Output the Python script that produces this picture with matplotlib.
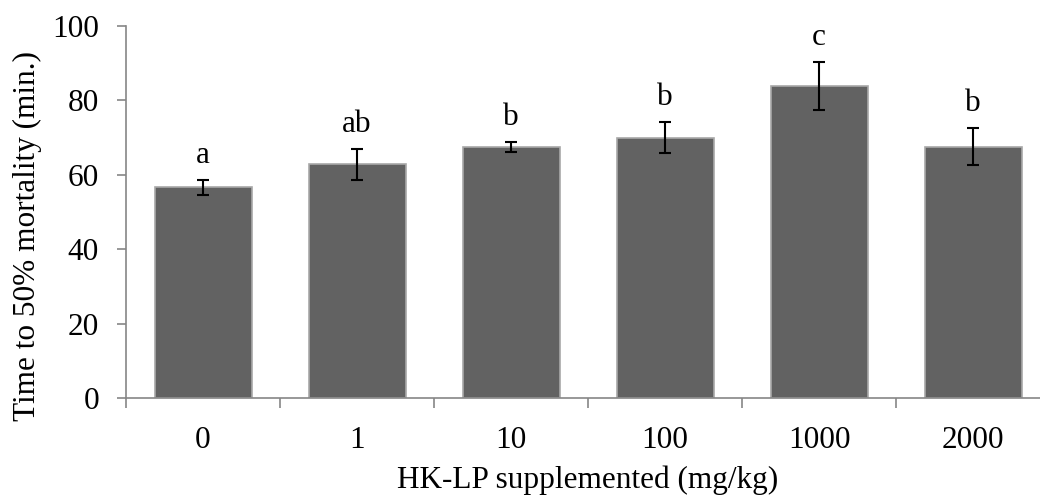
import numpy as np
import matplotlib
matplotlib.use('Agg')
import matplotlib.pyplot as plt
from matplotlib.ticker import FixedLocator

plt.rcParams['font.family'] = ['Liberation Serif', 'DejaVu Serif']

doses = ['0', '1', '10', '100', '1000', '2000']
means = [56.7, 62.8, 67.5, 70.0, 83.8, 67.5]
errs = [2.0, 4.2, 1.4, 4.1, 6.4, 5.0]
letters = ['a', 'ab', 'b', 'b', 'c', 'b']

fs = 22.5
fig = plt.figure(figsize=(10.4, 4.97), dpi=100)
ax = fig.add_axes([0.1212, 0.1992, 0.8885, 0.7485])

x = np.arange(len(doses))
ax.bar(x, means, width=0.63, color='#626262', edgecolor='#a8a8a8', linewidth=1.2, zorder=2)
ax.errorbar(x, means, yerr=errs, fmt='none', ecolor='black', elinewidth=1.5,
            capsize=4.3, capthick=1.5, zorder=3)
for xi, m, e, lab in zip(x, means, errs, letters):
    ax.text(xi, m + e + 4.6, lab, ha='center', va='baseline', fontsize=fs)

ax.set_xlim(-0.5, len(doses) - 0.5)
ax.set_ylim(0, 100)
ax.set_yticks(np.arange(0, 101, 20))
ax.set_xticks(x)
ax.set_xticklabels(doses)
ax.xaxis.set_minor_locator(FixedLocator(np.arange(-0.5, len(doses), 1.0)))

for s in ['top', 'right']:
    ax.spines[s].set_visible(False)
for s in ['left', 'bottom']:
    ax.spines[s].set_color('#868686')
    ax.spines[s].set_linewidth(1.2)

ax.tick_params(axis='x', which='major', length=0, pad=20, labelsize=fs)
ax.tick_params(axis='x', which='minor', length=7, width=1.2, color='#868686')
ax.tick_params(axis='y', length=6.5, width=1.2, color='#868686', pad=13, labelsize=fs)

ax.set_xlabel('HK-LP supplemented (mg/kg)', fontsize=fs, labelpad=8)
ax.set_ylabel('Time to 50% mortality (min.)', fontsize=fs, labelpad=7, y=0.435)

fig.savefig('out.png', dpi=100)
